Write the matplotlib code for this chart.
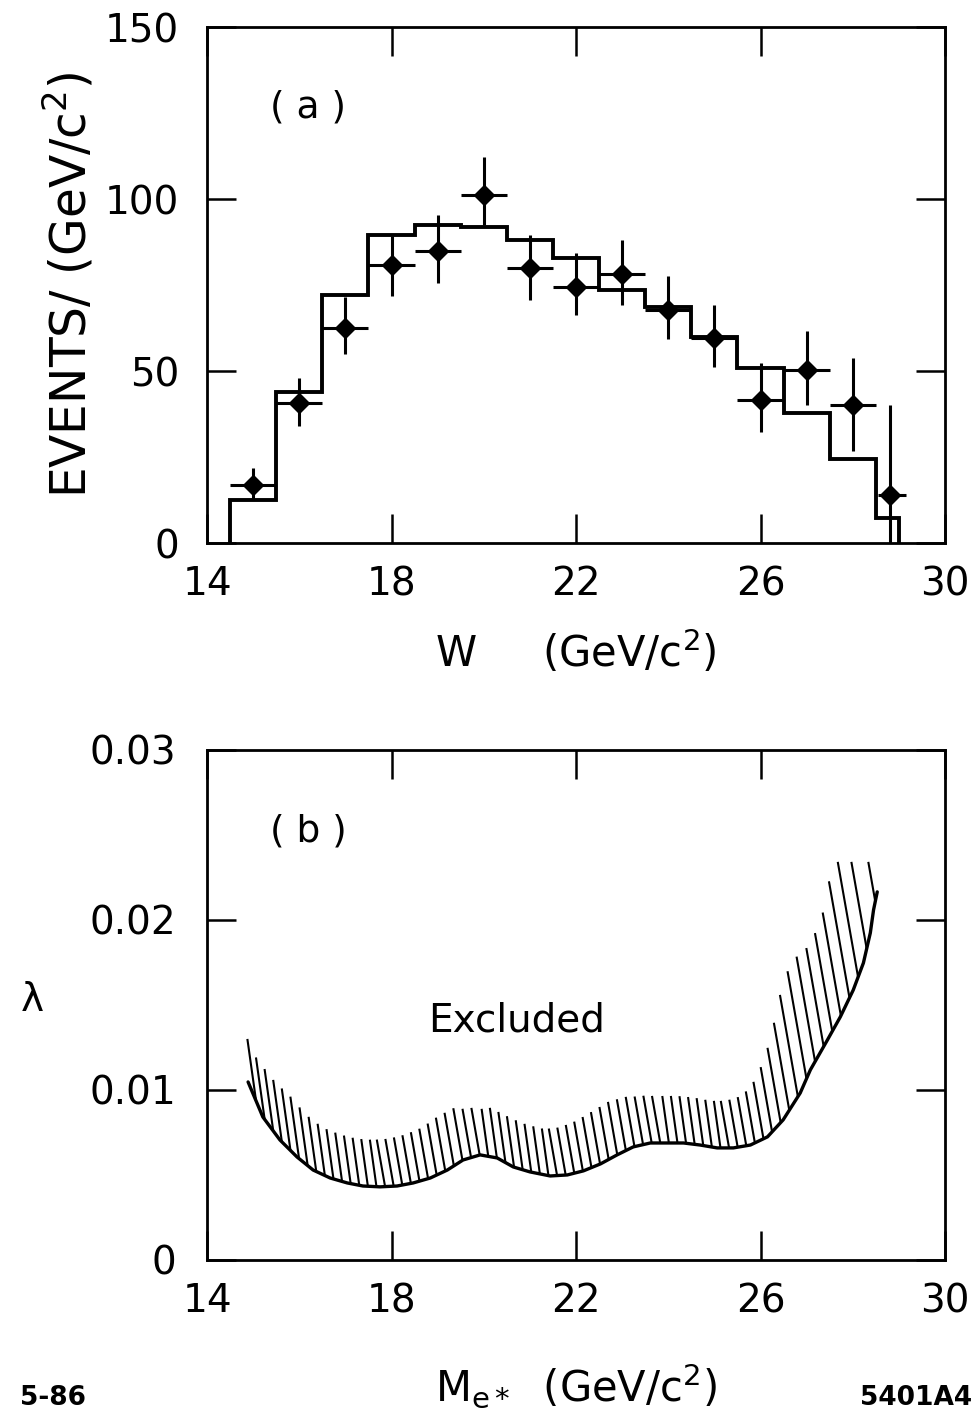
import numpy as np
import matplotlib
matplotlib.use("Agg")
import matplotlib.pyplot as plt
from matplotlib.collections import LineCollection

# ---- panel (a): W distribution ----
# Monte Carlo histogram (bin edges and contents)
hist_edges = [14.5, 15.5, 16.5, 17.5, 18.5, 19.5, 20.5, 21.5, 22.5,
              23.5, 24.5, 25.5, 26.5, 27.5, 28.5, 29.0]
hist_counts = [12.5, 44.0, 72.0, 89.5, 92.4, 92.0, 88.0, 82.8,
               73.5, 68.6, 59.9, 50.9, 37.8, 24.4, 7.3]

# data points with errors
w_data = [15, 16, 17, 18, 19, 20, 21, 22, 23, 24, 25, 26, 27, 28, 28.8]
events = [16.9, 40.7, 62.5, 80.8, 84.9, 101.2, 79.9, 74.4,
          78.2, 67.7, 59.6, 41.6, 50.3, 40.1, 14.0]
err_up = [4.9, 7.3, 9.0, 8.4, 10.4, 11.0, 9.6, 9.9,
          9.8, 9.9, 9.6, 10.7, 11.3, 13.7, 26.1]
err_down = [4.4, 6.7, 7.5, 9.0, 9.3, 8.8, 9.3, 8.1,
            9.0, 8.4, 8.4, 9.3, 10.2, 13.4, 14.0]
xerr_lo = [0.5] * 14 + [0.25]
xerr_hi = [0.5] * 14 + [0.35]

# ---- panel (b): lambda limit vs M_e* ----
m_curve = [14.89, 15.21, 15.58, 15.95, 16.30, 16.67, 17.04, 17.38, 17.75,
           18.12, 18.47, 18.84, 19.21, 19.55, 19.92, 20.29, 20.64, 21.00,
           21.44, 21.81, 22.16, 22.53, 22.89, 23.24, 23.61, 23.98, 24.33,
           24.69, 25.06, 25.41, 25.78, 26.15, 26.49, 26.86, 27.08, 27.45,
           27.73, 28.01, 28.23, 28.38, 28.45, 28.53]
lam_curve = [0.01047, 0.00841, 0.00706, 0.00606, 0.00529, 0.00482, 0.00453,
             0.00435, 0.00430, 0.00435, 0.00453, 0.00482, 0.00529, 0.00588,
             0.00618, 0.00600, 0.00547, 0.00518, 0.00494, 0.00500, 0.00524,
             0.00565, 0.00618, 0.00665, 0.00688, 0.00688, 0.00688, 0.00676,
             0.00659, 0.00659, 0.00676, 0.00724, 0.00824, 0.00982, 0.01118,
             0.01294, 0.01430, 0.01588, 0.01747, 0.01924, 0.02059, 0.02165]

x_ticks = [14, 18, 22, 26, 30]

plt.rcParams['font.family'] = ['DejaVu Sans']

fig = plt.figure(figsize=(9.77, 14.16), dpi=100)
ax_a = fig.add_axes([0.2119, 0.6165, 0.7554, 0.3644])
ax_b = fig.add_axes([0.2119, 0.1102, 0.7554, 0.3602])


def style_axes(ax, ypad):
    for s in ax.spines.values():
        s.set_linewidth(2.0)
    ax.tick_params(direction="in", length=21, width=1.8, top=True, right=True,
                   labelsize=28)
    ax.tick_params(axis="x", pad=16)
    ax.tick_params(axis="y", pad=ypad)


# panel (a)
ax_a.stairs(hist_counts, hist_edges, baseline=0, color="black", linewidth=2.8)
ax_a.errorbar(w_data, events, yerr=[err_down, err_up], xerr=[xerr_lo, xerr_hi],
              fmt="D", color="black", markersize=10, elinewidth=2.2, capsize=0)
ax_a.set_xlim(14, 30)
ax_a.set_ylim(0, 150)
ax_a.set_xticks(x_ticks)
ax_a.set_yticks([0, 50, 100, 150])
style_axes(ax_a, 20)
ax_a.set_xlabel("W     (GeV/c$^2$)", fontsize=30, labelpad=18)
ax_a.set_ylabel("EVENTS/ (GeV/c$^2$)", fontsize=35, labelpad=6)
ax_a.text(0.085, 0.825, "( a )", transform=ax_a.transAxes, fontsize=27)

# panel (b)
ax_b.set_xlim(14, 30)
ax_b.set_ylim(0, 0.03)
ax_b.set_xticks(x_ticks)
ax_b.set_yticks([0, 0.01, 0.02, 0.03])
ax_b.set_yticklabels(["0", "0.01", "0.02", "0.03"])
style_axes(ax_b, 22)
ax_b.plot(m_curve, lam_curve, color="black", linewidth=2.4,
          solid_capstyle="round")

# hatching above the curve, built in pixel space
pts = ax_b.transData.transform(np.column_stack([m_curve, lam_curve]))
px, py = pts[:, 0], pts[:, 1]
slope = np.gradient(py, px)
hx = np.arange(px[0] + 8, px[-1] - 1, 8.6)
hy = np.interp(hx, px, py)
hs = np.interp(hx, px, slope)
h = 47 * np.sqrt(1 + hs ** 2)
h = np.where(hs < 0, np.minimum(h, 62), np.minimum(h, 118))
h = np.minimum(h, py[-1] + 30 - hy)
tilt = np.tan(np.radians(np.where(hs > 0, 10, 8)))
tops = np.column_stack([hx - h * tilt, hy + h])
bots = np.column_stack([hx, hy])
inv = ax_b.transData.inverted()
segs = [[inv.transform(b), inv.transform(t)] for b, t in zip(bots, tops)]
ax_b.add_collection(LineCollection(segs, colors="black", linewidths=1.5))

ax_b.text(0.30, 0.47, "Excluded", transform=ax_b.transAxes, fontsize=28,
          va="center")
ax_b.text(0.085, 0.82, "( b )", transform=ax_b.transAxes, fontsize=27)
ax_b.set_xlabel("M$_{\\mathrm{e}*}$  (GeV/c$^2$)", fontsize=30, labelpad=30)
fig.text(0.033, 0.294, "λ", fontsize=28, ha="center", va="center")

fig.text(0.02, 0.008, "5-86", fontsize=19, fontweight="bold")
fig.text(0.995, 0.008, "5401A4", fontsize=19, fontweight="bold", ha="right")

fig.savefig("out.png", dpi=100)
